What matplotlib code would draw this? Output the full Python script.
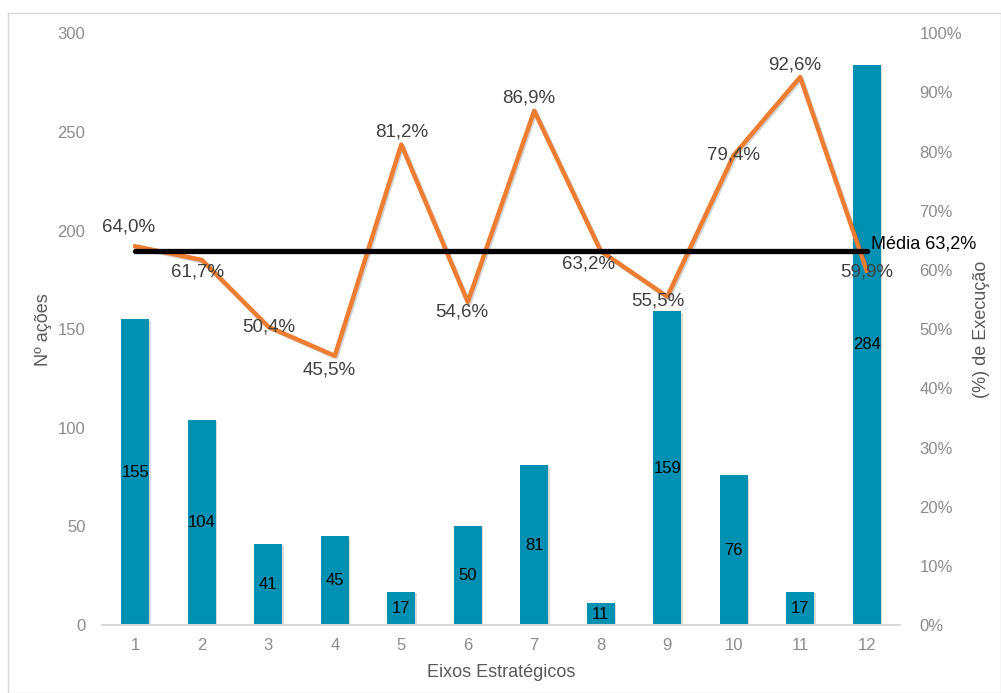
import matplotlib
matplotlib.use("Agg")
import matplotlib.pyplot as plt
import matplotlib.patheffects as pe
from matplotlib.patches import Rectangle
import numpy as np

plt.rcParams['font.family'] = ['Liberation Sans', 'DejaVu Sans']

# data
eixos = [1, 2, 3, 4, 5, 6, 7, 8, 9, 10, 11, 12]
n_acoes = [155, 104, 41, 45, 17, 50, 81, 11, 159, 76, 17, 284]
execucao = [64.0, 61.7, 50.4, 45.5, 81.2, 54.6, 86.9, 63.2, 55.5, 79.4, 92.6, 59.9]
media = 63.2

# label offsets in points (dx, dy) for the % labels
offs = [(-5, 14), (-3, -9), (0, 0), (-4, -10), (0, 9), (-4, -7), (-4, 9),
        (-9, -9), (-7, -3), (0, 0), (-4, 9), (0, -1)]

bar_col = '#0090B2'
line_col = '#EE7D31'
grey = '#8c8c8c'

fig = plt.figure(figsize=(10.01, 6.93), dpi=100)
fig.patches.append(Rectangle((8/1001, 0), 1 - 8/1001, 1 - 13/693, transform=fig.transFigure,
                             fill=False, edgecolor='#d9d9d9', linewidth=1))
ax = fig.add_axes([0.102, 0.098, 0.797, 0.854])
ax2 = ax.twinx()

x = np.array(eixos)
bars = ax.bar(x, n_acoes, width=0.42, color=bar_col, zorder=2)
for b in bars:
    b.set_path_effects([pe.SimplePatchShadow(offset=(1, -1), shadow_rgbFace='#999999', alpha=0.35), pe.Normal()])
for xi, v in zip(x, n_acoes):
    ax.text(xi, v / 2, str(v), ha='center', va='center', fontsize=12, color='black', zorder=3)

ax.set_xlim(0.5, 12.5)
ax.set_ylim(0, 300)
ax.set_yticks([0, 50, 100, 150, 200, 250, 300])
ax.set_xticks(x)
ax.tick_params(axis='both', length=0, colors=grey, labelsize=12, pad=9)
ax.tick_params(axis='y', pad=12)
for s in ['top', 'right', 'left']:
    ax.spines[s].set_visible(False)
ax.spines['bottom'].set_color('#d9d9d9')
ax.spines['bottom'].set_linewidth(1.5)
ax.set_xlabel('Eixos Estratégicos', fontsize=13, color='#595959', labelpad=8)
ax.set_ylabel('Nº ações', fontsize=13, color='#595959', labelpad=4)

ax2.plot(x, execucao, color=line_col, linewidth=3.2, zorder=3,
         path_effects=[pe.SimpleLineShadow(offset=(1, -1), alpha=0.18), pe.Normal()])
ax2.plot([x[0], x[-1]], [media, media], color='black', linewidth=3.8, zorder=4,
         solid_capstyle='round')
ax2.text(x[-1] + 0.06, media - 0.2, 'Média ' + f'{media:.1f}'.replace('.', ',') + '%',
         fontsize=13, color='black', ha='left', va='bottom')
for xi, v, (dx, dy) in zip(x, execucao, offs):
    ax2.annotate(f'{v:.1f}'.replace('.', ',') + '%', (xi, v), xytext=(dx, dy),
                 textcoords='offset points', ha='center', va='center',
                 fontsize=13.5, color='#404040', zorder=5)

ax2.set_ylim(0, 100)
ax2.set_yticks(range(0, 101, 10))
ax2.set_yticklabels([f'{t}%' for t in range(0, 101, 10)])
ax2.tick_params(axis='y', length=0, colors=grey, labelsize=12, pad=14)
for s in ['top', 'right', 'left', 'bottom']:
    ax2.spines[s].set_visible(False)
ax2.set_ylabel('(%) de Execução', fontsize=13, color='#595959', labelpad=8)

fig.savefig('out.png', dpi=100)
